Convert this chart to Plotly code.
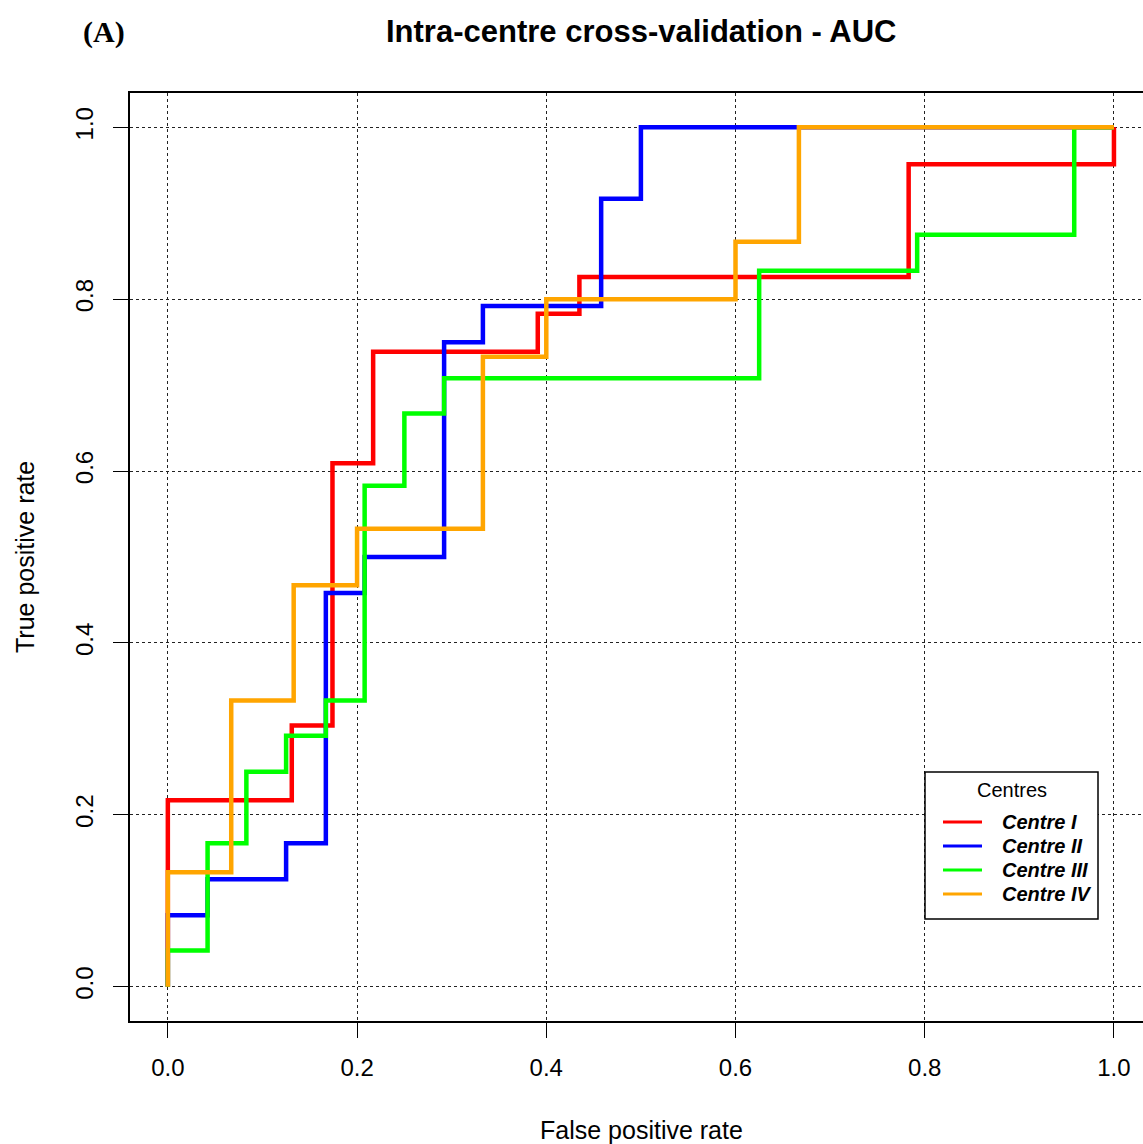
import plotly.graph_objects as go

# ROC step vertices (FPR, TPR)
centre1_fpr = [0, 0, 0.131, 0.131, 0.174, 0.174, 0.217, 0.217, 0.391, 0.391, 0.435, 0.435, 0.783, 0.783, 1.0, 1.0]
centre1_tpr = [0, 0.217, 0.217, 0.304, 0.304, 0.609, 0.609, 0.739, 0.739, 0.783, 0.783, 0.826, 0.826, 0.957, 0.957, 1.0]

centre2_fpr = [0, 0, 0.042, 0.042, 0.125, 0.125, 0.167, 0.167, 0.208, 0.208, 0.292, 0.292, 0.333, 0.333, 0.458, 0.458, 0.5, 0.5, 1.0]
centre2_tpr = [0, 0.083, 0.083, 0.125, 0.125, 0.167, 0.167, 0.458, 0.458, 0.5, 0.5, 0.75, 0.75, 0.792, 0.792, 0.917, 0.917, 1.0, 1.0]

centre3_fpr = [0, 0, 0.042, 0.042, 0.083, 0.083, 0.125, 0.125, 0.167, 0.167, 0.208, 0.208, 0.25, 0.25, 0.292, 0.292, 0.625, 0.625, 0.792, 0.792, 0.958, 0.958, 1.0]
centre3_tpr = [0, 0.042, 0.042, 0.167, 0.167, 0.25, 0.25, 0.292, 0.292, 0.333, 0.333, 0.583, 0.583, 0.667, 0.667, 0.708, 0.708, 0.833, 0.833, 0.875, 0.875, 1.0, 1.0]

centre4_fpr = [0, 0, 0.067, 0.067, 0.133, 0.133, 0.2, 0.2, 0.333, 0.333, 0.4, 0.4, 0.6, 0.6, 0.667, 0.667, 1.0]
centre4_tpr = [0, 0.133, 0.133, 0.333, 0.333, 0.467, 0.467, 0.533, 0.533, 0.733, 0.733, 0.8, 0.8, 0.867, 0.867, 1.0, 1.0]

series_names = ["Centre I", "Centre II", "Centre III", "Centre IV"]
series_colors = ["#ff0000", "#0000ff", "#00ff00", "#ffa500"]
tick_vals = [0, 0.2, 0.4, 0.6, 0.8, 1.0]
tick_text = ["0.0", "0.2", "0.4", "0.6", "0.8", "1.0"]

data = [(centre1_fpr, centre1_tpr), (centre2_fpr, centre2_tpr),
        (centre3_fpr, centre3_tpr), (centre4_fpr, centre4_tpr)]

FONT = "Liberation Sans, Arial, sans-serif"

# plot-area geometry in pixels (for paper-coordinate conversion)
W, H = 1143, 1144
L, R, T, B = 130, 0, 93, 123
PW, PH = W - L - R, H - T - B


def px(x):
    return (x - L) / PW


def py(y):
    return (H - B - y) / PH


fig = go.Figure()
for (xs, ys), name, col in zip(data, series_names, series_colors):
    fig.add_trace(go.Scatter(
        x=xs, y=ys, mode="lines", name=name,
        line=dict(color=col, width=4.5), showlegend=False,
    ))

axis_common = dict(
    tickvals=tick_vals, ticktext=tick_text,
    showgrid=True, gridcolor="#222222", griddash="dot", gridwidth=1.3,
    zeroline=False, showline=True, linecolor="black", linewidth=1.5,
    ticks="outside", ticklen=15, tickwidth=1.3, tickcolor="black",
    tickfont=dict(family=FONT, size=24, color="black"),
)

fig.update_xaxes(range=[-0.04, 1.0307], mirror=True, ticklabelstandoff=9, **axis_common)
fig.update_yaxes(range=[-0.04, 1.04], mirror=False, tickangle=-90, ticklabelstandoff=11, **axis_common)

# legend box (drawn manually to match the R legend layout)
shapes = [dict(type="rect", xref="paper", yref="paper",
               x0=px(925), x1=px(1098), y0=py(919), y1=py(772),
               fillcolor="white", line=dict(color="black", width=1.5), layer="above")]
annotations = [dict(text="Centres", x=px(1012), y=py(790), xref="paper", yref="paper",
                    showarrow=False, xanchor="center", yanchor="middle",
                    font=dict(family=FONT, size=20, color="black"))]
entry_y = [822, 846, 870, 894]
for name, col, ey in zip(series_names, series_colors, entry_y):
    shapes.append(dict(type="line", xref="paper", yref="paper",
                       x0=px(943), x1=px(982), y0=py(ey), y1=py(ey),
                       line=dict(color=col, width=3), layer="above"))
    annotations.append(dict(text="<b><i>" + name + "</i></b>", x=px(1000), y=py(ey),
                            xref="paper", yref="paper", showarrow=False,
                            xanchor="left", yanchor="middle",
                            font=dict(family=FONT, size=20, color="black")))

annotations += [
    dict(text="<b>Intra-centre cross-validation - AUC</b>", x=px(641), y=py(32),
         xref="paper", yref="paper", showarrow=False, xanchor="center", yanchor="middle",
         font=dict(family=FONT, size=31, color="black")),
    dict(text="<b>(A)</b>", x=px(104), y=py(32),
         xref="paper", yref="paper", showarrow=False, xanchor="center", yanchor="middle",
         font=dict(family="Liberation Serif, Times New Roman, serif", size=30, color="black")),
    dict(text="False positive rate", x=px(641), y=py(1130),
         xref="paper", yref="paper", showarrow=False, xanchor="center", yanchor="middle",
         font=dict(family=FONT, size=25, color="black")),
    dict(text="True positive rate", x=px(25), y=py(557), textangle=-90,
         xref="paper", yref="paper", showarrow=False, xanchor="center", yanchor="middle",
         font=dict(family=FONT, size=25, color="black")),
]

fig.update_layout(
    width=W, height=H,
    margin=dict(l=L, r=R, t=T, b=B),
    plot_bgcolor="white", paper_bgcolor="white",
    showlegend=False,
    shapes=shapes,
    annotations=annotations,
)

fig.write_html("out.html")
